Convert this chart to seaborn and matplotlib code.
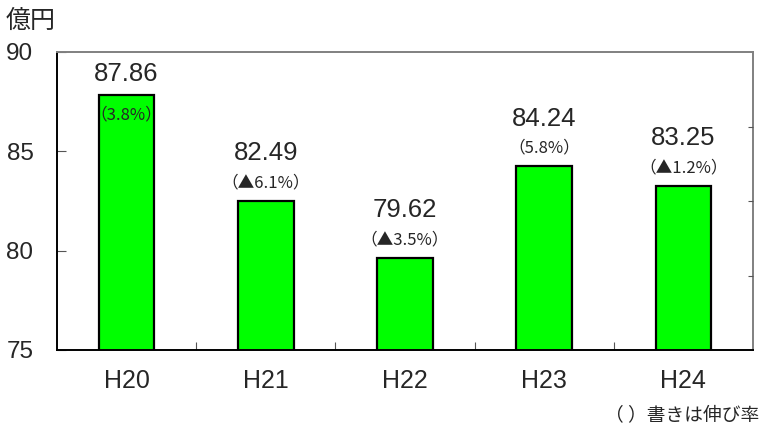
import matplotlib
matplotlib.use("Agg")
import matplotlib.pyplot as plt
import seaborn as sns
import pandas as pd

# データ
years = ['H20', 'H21', 'H22', 'H23', 'H24']
values = [87.86, 82.49, 79.62, 84.24, 83.25]
growth = ['（3.8%）', '（▲6.1%）', '（▲3.5%）', '（5.8%）', '（▲1.2%）']

df = pd.DataFrame({'年度': years, '億円': values})

sns.set_theme(style="white")
plt.rcParams['font.family'] = ['Liberation Sans', 'Noto Sans CJK JP', 'DejaVu Sans']
cjk = ['Noto Sans CJK JP', 'DejaVu Sans']

fig = plt.figure(figsize=(7.61, 4.29), dpi=100)
ax = fig.add_axes([57 / 761, 1 - 350 / 429, 696 / 761, 298 / 429])

sns.barplot(data=df, x='年度', y='億円', color='#00ff00', saturation=1,
            edgecolor='black', linewidth=1.6, width=0.4, ax=ax)

ymin, ymax = 75, 90
ax.set_ylim(ymin, ymax)
ax.set_xlim(-0.5, len(years) - 0.5)
ax.set_yticks([75, 80, 85, 90])
ax.set_xlabel('')
ax.set_ylabel('')

# 軸の体裁
for side in ['left', 'bottom']:
    ax.spines[side].set_color('black')
    ax.spines[side].set_linewidth(1.4)
for side in ['top', 'right']:
    ax.spines[side].set_color('#808080')
    ax.spines[side].set_linewidth(1.4)

ax.tick_params(axis='y', direction='in', length=6.5, width=0.8, color='#555555',
               labelsize=17.5, pad=17, left=True)
ax.tick_params(axis='x', which='major', length=0, labelsize=18, pad=14)
ax.set_xticks([i + 0.5 for i in range(len(years) - 1)], minor=True)
ax.tick_params(axis='x', which='minor', direction='in', length=6, width=0.8,
               color='#555555', bottom=True)

# 右側の目盛り
ax2 = ax.twinx()
ax2.set_ylim(0, 4)
ax2.set_yticks([1, 2, 3])
ax2.set_yticklabels([])
ax2.tick_params(axis='y', direction='in', length=3.5, width=0.8, color='#555555', right=True)
for s in ax2.spines.values():
    s.set_visible(False)

# 値と伸び率
for i, (v, g) in enumerate(zip(values, growth)):
    if v + 2.2 > ymax:
        ax.annotate(f'{v:.2f}', (i, v), xytext=(0, 15), textcoords='offset points',
                    ha='center', va='center', fontsize=18.5)
        ax.annotate(g, (i, v), xytext=(0, -15), textcoords='offset points',
                    ha='center', va='center', fontsize=12, family=cjk)
    else:
        ax.annotate(f'{v:.2f}', (i, v), xytext=(0, 34.5), textcoords='offset points',
                    ha='center', va='center', fontsize=18.5)
        ax.annotate(g, (i, v), xytext=(0, 13), textcoords='offset points',
                    ha='center', va='center', fontsize=12, family=cjk)

fig.text(6 / 761, 1 - 21 / 429, '億円', fontsize=18, ha='left', va='center', family=cjk)
fig.text(759 / 761, 1 - 415 / 429, '（ ）書きは伸び率', fontsize=13.5, ha='right', va='center',
         family=cjk)

fig.savefig('out.png', dpi=100)
